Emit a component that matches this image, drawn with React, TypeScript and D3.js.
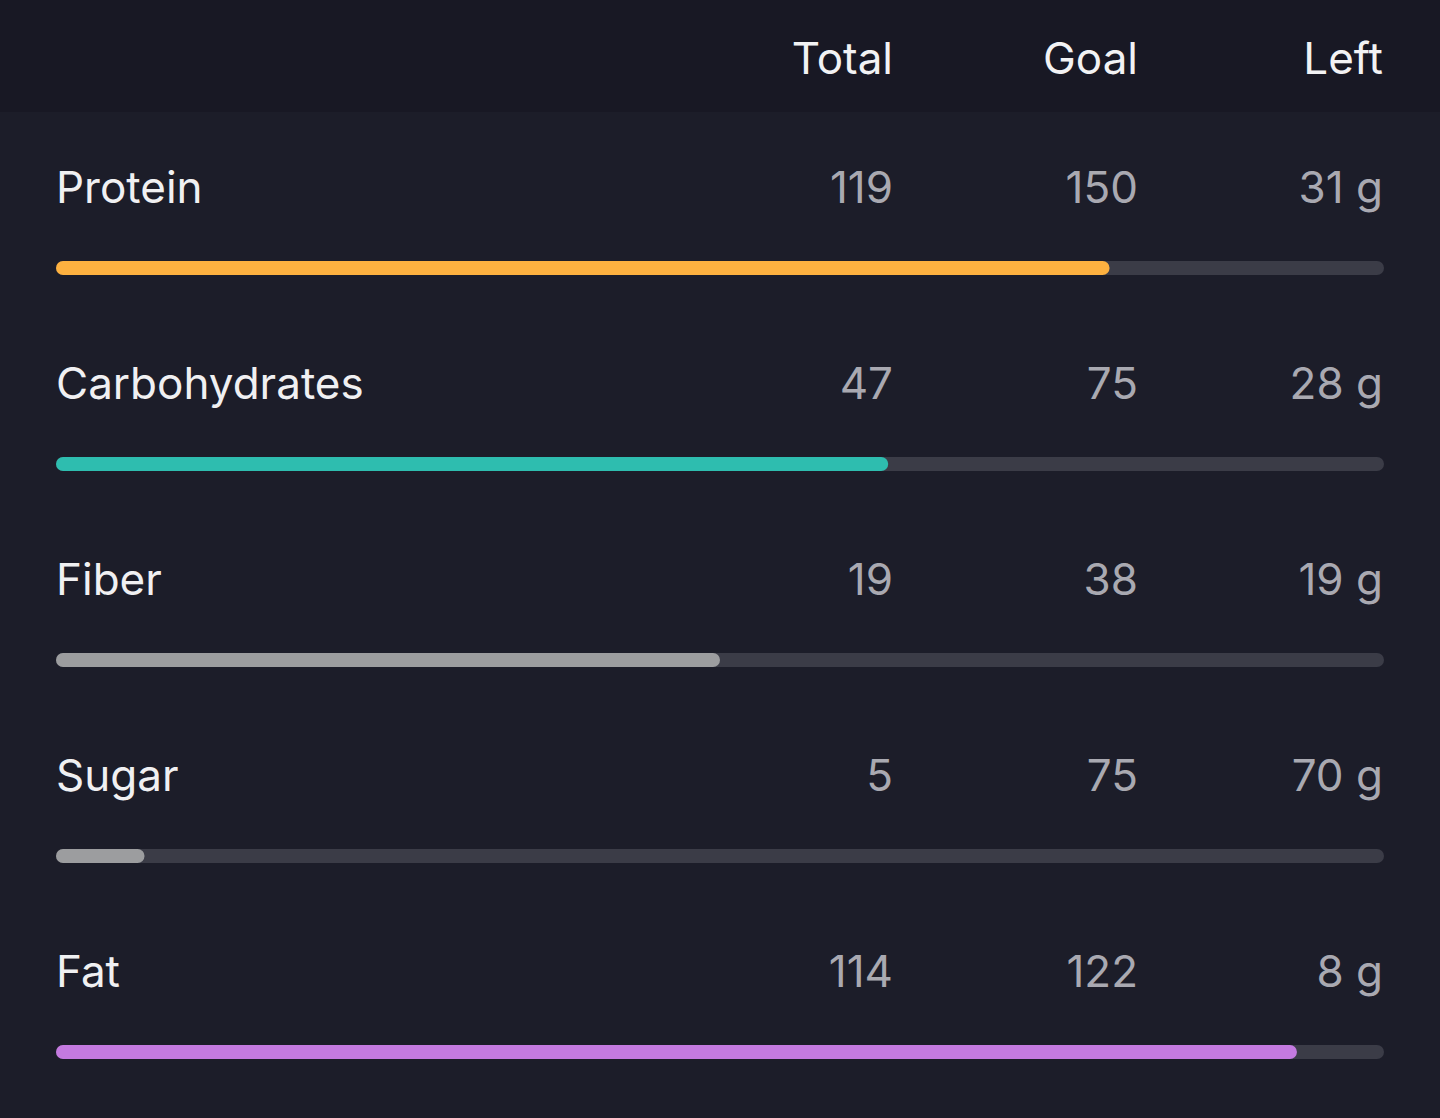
import React from "react";
import * as d3 from "d3";

const nutrients = ["Protein", "Carbohydrates", "Fiber", "Sugar", "Fat"];
const totals = [119, 47, 19, 5, 114];
const goals = [150, 75, 38, 75, 122];
const lefts = [31, 28, 19, 70, 8];
const colors = ["#fdb140", "#2ebdaf", "#9c9d9f", "#9c9d9f", "#c47ae0"];
const headers = ["Total", "Goal", "Left"];

const W = 1440;
const H = 1118;

export default function App() {
  const rowY = d3.scalePoint<string>().domain(nutrients).range([187, 971]);
  const barX0 = 56;
  const barX1 = 1384;
  const barH = 14;
  const colRight = [893, 1138, 1383];
  const font = "Inter, 'Noto Sans', sans-serif";

  return (
    <svg width={W} height={H} style={{ position: "absolute", left: 0, top: 0, display: "block" }}>
      <rect x={0} y={0} width={W} height={H} fill="#1c1d29" />
      <rect x={0} y={0} width={W} height={112} fill="#181824" />
      {headers.map((h, i) => (
        <text key={h} x={colRight[i]} y={74} textAnchor="end" fill="#f2f2f4" fontSize={44} fontFamily={font}>
          {h}
        </text>
      ))}
      {nutrients.map((n, i) => {
        const cy = rowY(n)!;
        const x = d3.scaleLinear().domain([0, goals[i]]).range([barX0, barX1]).clamp(true);
        const by = cy + 81 - barH / 2;
        const vals = [String(totals[i]), String(goals[i]), `${lefts[i]} g`];
        return (
          <g key={n}>
            <text x={56} y={cy + 16} fill="#f0f0f2" fontSize={44} fontFamily={font}>
              {n}
            </text>
            {vals.map((v, j) => (
              <text key={j} x={colRight[j]} y={cy + 16} textAnchor="end" fill="#a9a9b1" fontSize={44} fontFamily={font}>
                {v}
              </text>
            ))}
            <rect x={barX0} y={by} width={barX1 - barX0} height={barH} rx={barH / 2} fill="#3b3c47" />
            <rect x={barX0} y={by} width={x(totals[i]) - barX0} height={barH} rx={barH / 2} fill={colors[i]} />
          </g>
        );
      })}
    </svg>
  );
}
